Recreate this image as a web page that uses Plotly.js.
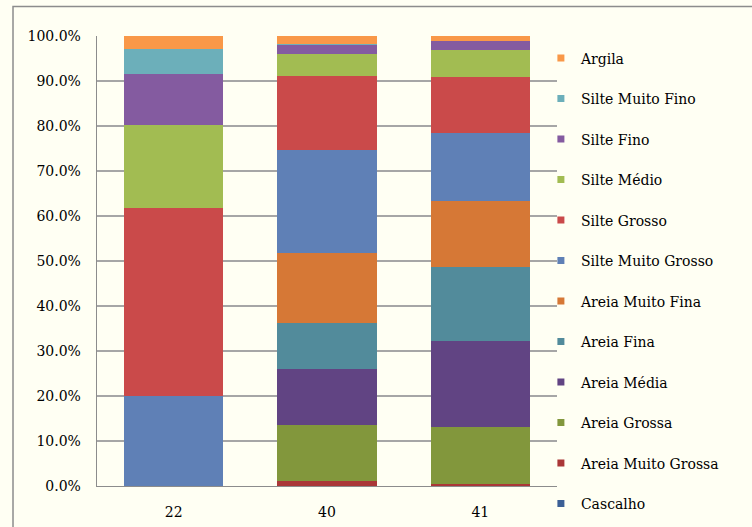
<!DOCTYPE html>
<html>
<head>
<meta charset="utf-8">
<script src="https://cdn.plot.ly/plotly-3.0.1.min.js"></script>
<style>
  html, body { margin: 0; padding: 0; background: #FFFFF3; }
  #chart { width: 752px; height: 527px; }
</style>
</head>
<body>
<div id="chart"></div>
<script>
// Sample points (x axis categories)
const samples = ['22', '40', '41'];

// Grain-size fractions (%) per sample, from coarsest to finest
const cascalho          = [0.0, 0.0, 0.0];
const areiaMuitoGrossa  = [0.0, 1.2, 0.45];
const areiaGrossa       = [0.0, 12.3, 12.65];
const areiaMedia        = [0.0, 12.5, 19.2];
const areiaFina         = [0.0, 10.2, 16.3];
const areiaMuitoFina    = [0.0, 15.5, 14.8];
const silteMuitoGrosso  = [20.0, 22.9, 15.1];
const silteGrosso       = [41.8, 16.5, 12.3];
const silteMedio        = [18.5, 4.9, 6.0];
const silteFino         = [11.2, 2.0, 2.0];
const silteMuitoFino    = [5.7, 0.3, 0.05];
const argila            = [2.8, 1.7, 1.15];

const fractionNames = ['Cascalho', 'Areia Muito Grossa', 'Areia Grossa', 'Areia Média',
  'Areia Fina', 'Areia Muito Fina', 'Silte Muito Grosso', 'Silte Grosso', 'Silte Médio',
  'Silte Fino', 'Silte Muito Fino', 'Argila'];
const fractionValues = [cascalho, areiaMuitoGrossa, areiaGrossa, areiaMedia, areiaFina,
  areiaMuitoFina, silteMuitoGrosso, silteGrosso, silteMedio, silteFino, silteMuitoFino, argila];
const fractionColors = ['#3C6096', '#AA3737', '#82973C', '#614483', '#528B9B', '#D67836',
  '#5F80B6', '#CA4A4A', '#A2BC52', '#845BA0', '#6CAFBA', '#F99848'];

const FONT = 'DejaVu Serif';
const FS = 14;
const BG = '#FFFFF3';

const traces = [];
// legend keys first, finest fraction on top
for (let i = fractionNames.length - 1; i >= 0; i--) {
  traces.push({
    type: 'scatter', mode: 'markers', name: fractionNames[i], x: [null], y: [null],
    marker: { symbol: 'square', size: 7, color: fractionColors[i] },
    legendgroup: fractionNames[i], showlegend: true, hoverinfo: 'skip'
  });
}
// stacked segments, coarsest at the bottom
fractionNames.forEach((name, i) => {
  traces.push({
    type: 'bar', name: name, x: samples, y: fractionValues[i],
    marker: { color: fractionColors[i], line: { width: 0 } },
    legendgroup: name, showlegend: false, hoverinfo: 'name+y'
  });
});

const layout = {
  width: 752, height: 527,
  margin: { l: 97, r: 195, t: 36, b: 41, autoexpand: false },
  paper_bgcolor: BG, plot_bgcolor: BG,
  font: { family: FONT, size: FS, color: '#000' },
  barmode: 'stack', bargap: 0.352,
  showlegend: true,
  legend: {
    x: 0.965, xanchor: 'left', y: 0.9856, yanchor: 'top',
    traceorder: 'grouped', tracegroupgap: 19.3, maxheight: 600,
    font: { family: FONT, size: FS, color: '#000' },
    bgcolor: 'rgba(0,0,0,0)'
  },
  xaxis: {
    type: 'category', showgrid: false, zeroline: false,
    showline: true, linecolor: '#8C8C8C', linewidth: 1.3,
    ticks: '', ticklabelstandoff: 13,
    tickfont: { family: FONT, size: FS, color: '#000' }
  },
  yaxis: {
    range: [0, 100], dtick: 10, tickformat: '.1f', ticksuffix: '%',
    showgrid: true, gridcolor: '#A6A6A6', gridwidth: 1.3,
    zeroline: false, showline: true, linecolor: '#8C8C8C', linewidth: 1.3,
    ticks: '', ticklabelstandoff: 12,
    tickfont: { family: FONT, size: FS, color: '#000' }
  },
  shapes: [{
    // chart frame (left and top edges visible)
    type: 'rect', xref: 'paper', yref: 'paper',
    x0: -0.1826, x1: 1.6, y0: 1.0656, y1: -0.3,
    line: { color: '#8C8C8C', width: 1.5 }, fillcolor: 'rgba(0,0,0,0)', layer: 'below'
  }]
};

Plotly.newPlot('chart', traces, layout, { displayModeBar: false, staticPlot: true });
</script>
</body>
</html>
